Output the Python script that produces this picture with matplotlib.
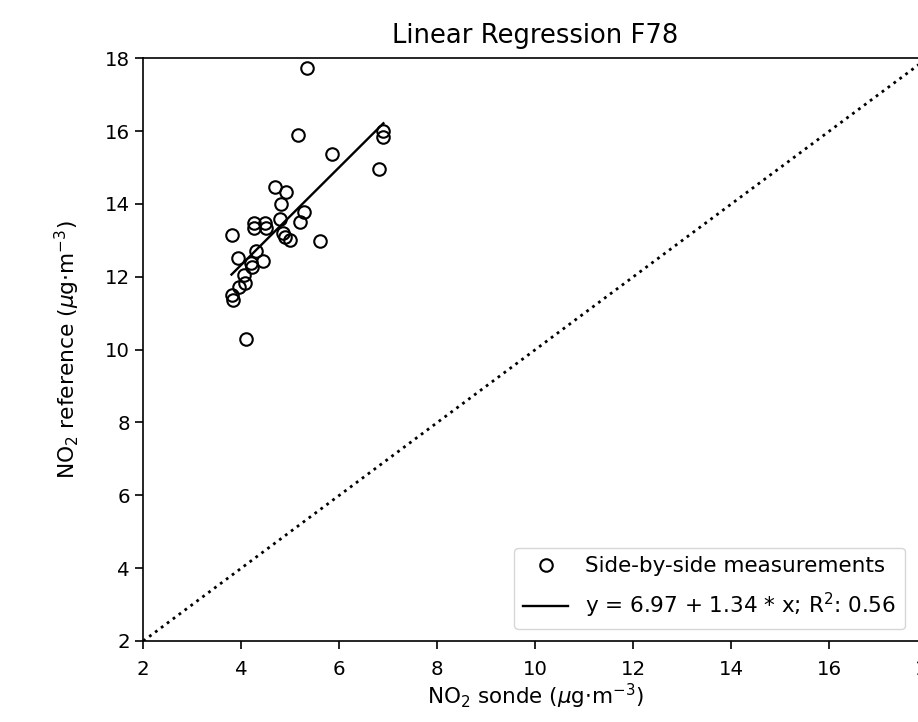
import matplotlib
matplotlib.use("Agg")
import matplotlib.pyplot as plt
import numpy as np

# ---- data ----
sonde = [5.35, 5.15, 5.86, 6.89, 6.90, 6.80, 4.68, 4.92, 4.81, 5.27, 5.20,
         4.25, 4.25, 4.49, 4.50, 4.78, 4.86, 4.89, 4.99, 5.61, 3.81, 4.30,
         3.94, 4.44, 4.19, 4.22, 4.05, 4.08, 3.95, 3.80, 3.84, 4.10]
reference = [17.72, 15.89, 15.38, 16.00, 15.85, 14.95, 14.46, 14.32, 13.99,
             13.77, 13.50, 13.47, 13.33, 13.49, 13.34, 13.60, 13.20, 13.10,
             13.02, 12.99, 13.16, 12.72, 12.51, 12.43, 12.38, 12.26, 12.06,
             11.83, 11.71, 11.51, 11.35, 10.30]
intercept = 6.97
slope = 1.34
r2 = 0.56
axis_range = [2, 18]
ticks = [2, 4, 6, 8, 10, 12, 14, 16, 18]

plt.rcParams['font.family'] = ['DejaVu Sans']
plt.rcParams['mathtext.fontset'] = 'dejavusans'

fig = plt.figure(figsize=(9.18, 7.22), dpi=100)
ax = fig.add_axes([143.3 / 918, 81 / 722, 784 / 918, 582.7 / 722])

ax.plot(axis_range, axis_range, linestyle=':', color='black', lw=2.0)
ax.plot(sonde, reference, linestyle='none', marker='o', markersize=9,
        markerfacecolor='none', markeredgecolor='black', markeredgewidth=1.5,
        label='Side-by-side measurements')
xs = np.array([min(sonde), max(sonde)])
ax.plot(xs, intercept + slope * xs, color='black', lw=1.7,
        label=f'y = {intercept:.2f} + {slope:.2f} * x; R$^2$: {r2:.2f}')

ax.set_xlim(axis_range)
ax.set_ylim(axis_range)
ax.set_xticks(ticks)
ax.set_yticks(ticks)
ax.tick_params(labelsize=14.2, length=5.5, width=1.2)
ax.tick_params(axis='x', pad=8)
ax.tick_params(axis='y', pad=4)
for s in ax.spines.values():
    s.set_linewidth(1.2)

ax.set_title('Linear Regression F78', fontsize=18.6, pad=11)
ax.set_xlabel(r'NO$_2$ sonde ($\mu$g$\cdot$m$^{-3}$)', fontsize=15.5)
ax.set_ylabel(r'NO$_2$ reference ($\mu$g$\cdot$m$^{-3}$)', fontsize=15.7)
ax.xaxis.set_label_coords(0.5, -(682 - 641) / 582.7)
ax.yaxis.set_label_coords((82 - 143.3) / 784, 0.5)

ax.legend(loc='lower right', bbox_to_anchor=((905 - 143.3) / 784, 12 / 582.7),
          borderaxespad=0, fontsize=15.5, handlelength=2.1, labelspacing=0.7)

fig.savefig('out.png', dpi=100)
